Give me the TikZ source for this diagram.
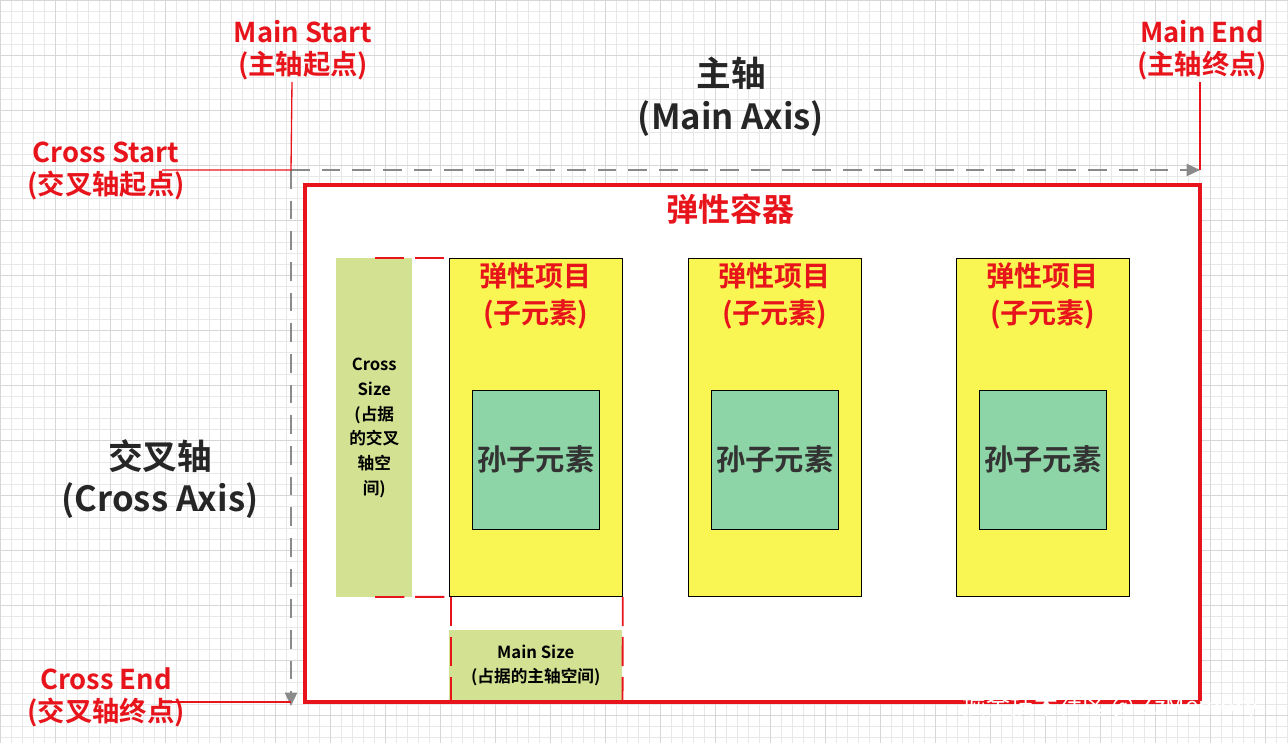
\documentclass[tikz,border=0pt]{standalone}
\usepackage{fontspec}
\setmainfont{Noto Sans CJK SC}[BoldFont={Noto Sans CJK SC Bold}]
\usetikzlibrary{arrows.meta}
\definecolor{hongse}{HTML}{E8141B}
\definecolor{huangse}{HTML}{F9F552}
\definecolor{lvse}{HTML}{8DD5A6}
\definecolor{caolv}{HTML}{D3E192}
\definecolor{huise}{HTML}{8A8A8A}
\newlength{\px}
\setlength{\px}{0.75pt}
\tikzset{
    redlabel/.style={text=hongse, font=\bfseries\fontsize{20.5}{24}\selectfont, align=center},
    axislabel/.style={text=black!85, font=\bfseries\fontsize{26}{32}\selectfont, align=center},
    axisline/.style={huise, line width=1.8pt, dash pattern=on 14pt off 9pt, -{Triangle[length=10pt,width=9pt]}},
    markline/.style={hongse, line width=1pt},
    itembox/.style={draw=black, fill=huangse, line width=0.6pt, minimum width=173\px, minimum height=338\px, anchor=north west, inner sep=0pt},
    sonbox/.style={draw=black, fill=lvse, line width=0.6pt, minimum width=123\px, minimum height=139\px, font=\bfseries\fontsize{22}{24}\selectfont, text=black!80},
    sizebox/.style={fill=caolv, font=\bfseries\fontsize{12.5}{18.5}\selectfont, align=center, inner sep=0pt},
    sizemark/.style={hongse, line width=1.4pt, dash pattern=on 22pt off 8pt}
}
\begin{document}
\begin{tikzpicture}[x=0.75pt, y=-0.75pt]
    \useasboundingbox (0,0) rectangle (1288,743);
    % background grid
    \foreach \g in {0,11,...,1288} \draw[black!9, line width=0.4pt] (\g,0) -- (\g,743);
    \foreach \g in {0,11,...,743} \draw[black!9, line width=0.4pt] (0,\g) -- (1288,\g);
    \foreach \g in {0,55,...,1288} \draw[black!16, line width=0.5pt] (\g,0) -- (\g,743);
    \foreach \g in {0,55,...,743} \draw[black!16, line width=0.5pt] (0,\g) -- (1288,\g);

    % axes
    \coordinate (origin) at (291,170);
    \coordinate (mainend) at (1200,170);
    \coordinate (crossend) at (291,706);
    \draw[axisline] (origin) -- (mainend);
    \draw[axisline] (origin) -- (crossend);

    % red markers
    \node[redlabel] (mainstart) at (303,50) {Main Start\\(主轴起点)};
    \node[redlabel] (mainendlbl) at (1202,50) {Main End\\(主轴终点)};
    \node[redlabel] (crossstart) at (106,171) {Cross Start\\(交叉轴起点)};
    \node[redlabel] (crossendlbl) at (106,697) {Cross End\\(交叉轴终点)};
    \draw[markline] (292,82) -- (origin) -- (162,170);
    \draw[markline] (1200,82) -- (mainend);
    \draw[markline] (165,702) -- (crossend |- 0,702);

    \node[axislabel] (mainaxis) at (731,97) {主轴\\(Main Axis)};
    \node[axislabel] (crossaxis) at (160,479) {交叉轴\\(Cross Axis)};

    % container
    \draw[hongse, line width=2.3pt, fill=white] (305,185) rectangle (1200,702);
    \node[text=hongse, font=\bfseries\fontsize{24}{26}\selectfont] (container) at (730,209) {弹性容器};

    % items
    \foreach \x/\name in {449/itema, 688/itemb, 956/itemc} {
        \node[itembox] (\name) at (\x,258) {};
        \node[redlabel, font=\bfseries\fontsize{21}{28}\selectfont] at ([yshift=-38\px]\name.north) {弹性项目\\(子元素)};
        \node[sonbox] (\name-son) at ([yshift=-32\px]\name.center) {孙子元素};
    }

    % cross size
    \node[sizebox, minimum width=76\px, minimum height=339\px, anchor=north west] (crosssize) at (336,258) {Cross\\Size\\(占据\\的交叉\\轴空\\间)};
    \draw[sizemark] (375,258) -- (itema.north west);
    \draw[sizemark] (375,597) -- (itema.south west);

    % main size
    \node[sizebox, minimum width=173\px, minimum height=70\px, anchor=north west] (mainsize) at (449,630) {Main Size\\(占据的主轴空间)};
    \draw[sizemark] ([xshift=2\px]itema.south west) -- ([xshift=2\px]mainsize.south west);
    \draw[sizemark] (itema.south east) -- (mainsize.south east);

    % watermark
    \node[text=white, font=\fontsize{18}{20}\selectfont] (mark) at (1110,707) {掘金技术社区 @ ZzMemory};
\end{tikzpicture}
\end{document}
